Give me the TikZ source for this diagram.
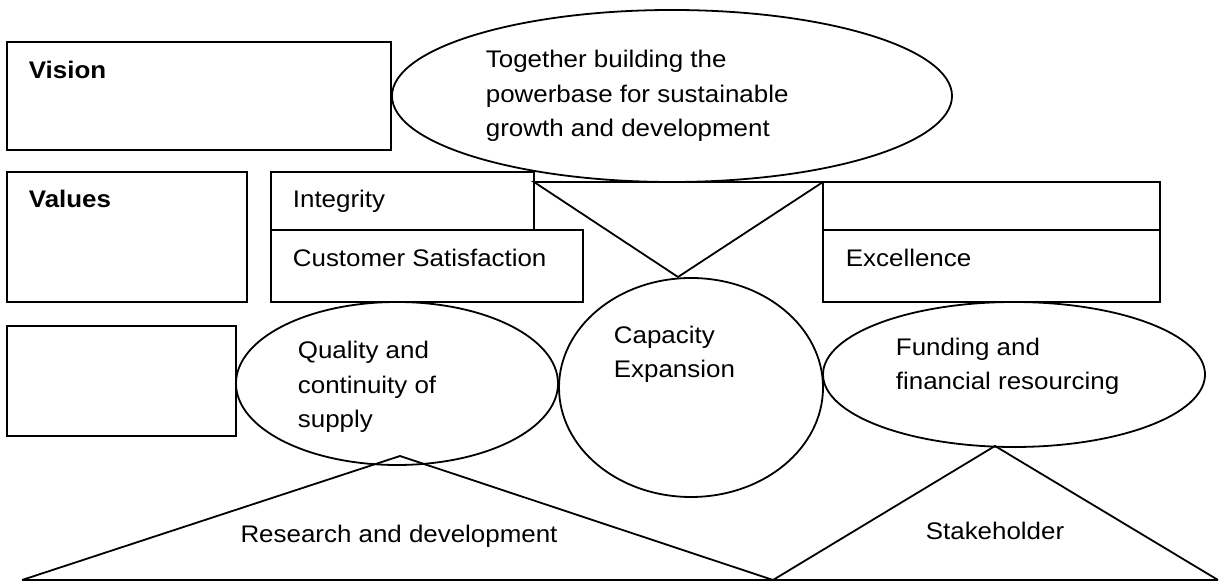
\documentclass[tikz,border=0pt]{standalone}
\usepackage{fontspec}
\setmainfont{Liberation Sans}[FakeStretch=1.08]
\begin{document}
\begin{tikzpicture}[x=0.5pt,y=-0.5pt,line width=0.9pt,
    txt/.style={inner sep=0pt,anchor=base west,align=left,font=\fontsize{12}{17.25}\selectfont},
    hdr/.style={txt,font=\fontsize{12}{17.25}\selectfont\bfseries},
    mid/.style={txt,anchor=base}]
  \useasboundingbox (0,0) rectangle (1219,581);

  % top row
  \draw (7,42) rectangle (391,150);
  \draw (672,96) ellipse [x radius=140pt, y radius=43pt];
  \node[hdr] (vision) at (28,79) {Vision};
  \node[txt] (together) at (485,137) {Together building the\\powerbase for sustainable\\growth and development};

  % values row
  \draw (7,172) rectangle (247,302);
  \draw (271,172) rectangle (534,230);
  \draw (271,230) rectangle (583,302);
  \draw (534,182) -- (823,182) -- (678,277) -- cycle;
  \draw (823,182) rectangle (1160,230);
  \draw (823,230) rectangle (1160,302);
  \node[hdr] (values) at (28,208) {Values};
  \node[txt] (integrity) at (292,208) {Integrity};
  \node[txt] (customer) at (292,267) {Customer Satisfaction};
  \node[txt] (excellence) at (845,267) {Excellence};

  % goals row
  \draw (7,326) rectangle (236,436);
  \draw (397,383.5) ellipse [x radius=80.5pt, y radius=40.75pt];
  \draw (691,387.5) ellipse [x radius=66pt, y radius=54.75pt];
  \draw (1014,374.5) ellipse [x radius=95.5pt, y radius=36.25pt];
  \node[txt] (quality) at (297,428) {Quality and\\continuity of\\supply};
  \node[txt] (capacity) at (613,378) {Capacity\\Expansion};
  \node[txt] (funding) at (895,390) {Funding and\\financial resourcing};

  % bottom triangles
  \draw (22,580) -- (400,456) -- (773,580);
  \draw (773,580) -- (995,446) -- (1218,580);
  \draw (22,580) -- (1218,580);
  \node[mid] (research) at (399,543) {Research and development};
  \node[mid] (stake) at (995,539) {Stakeholder};
\end{tikzpicture}
\end{document}
